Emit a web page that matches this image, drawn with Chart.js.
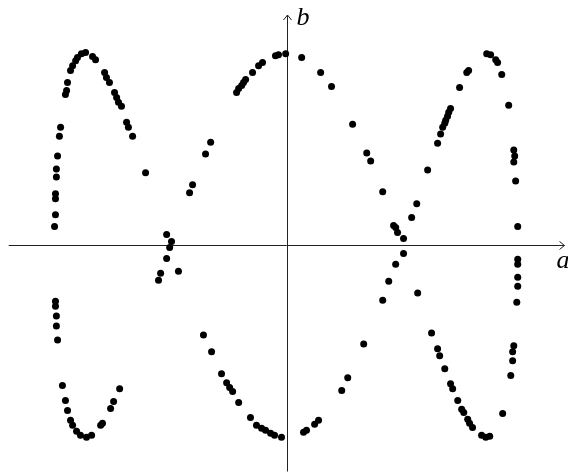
<!DOCTYPE html>
<html>
<head>
<meta charset="utf-8">
<script src="https://cdn.jsdelivr.net/npm/chart.js@4"></script>
<style>
html,body{margin:0;padding:0;background:#fff;}
#c{display:block;}
</style>
</head>
<body>
<canvas id="c" width="568" height="475"></canvas>
<script>
const aValues = [
-1.002,-0.998,-0.998,-0.998,-0.994,-0.994,-0.989,-0.981,-0.976,-0.955,
-0.950,-0.946,-0.933,-0.924,-0.911,-0.903,-0.886,-0.868,-0.838,-0.825,
-0.786,-0.778,-0.765,-0.743,-0.734,-0.726,-0.713,-0.691,-0.683,-0.665,
-0.609,-0.518,-0.497,-0.505,-0.518,-0.467,-0.544,-0.553,-0.419,-0.406,
-0.350,-0.328,-0.216,-0.207,-0.194,-0.186,-0.177,-0.147,-0.121,-0.104,
-0.048,-0.035,-0.004,0.065,0.147,0.194,0.285,0.346,0.363,0.415,
0.462,0.471,0.479,0.505,0.505,0.471,0.441,0.415,0.540,0.562,
0.566,0.609,0.652,0.665,0.674,0.683,0.687,0.695,0.700,0.708,
0.747,0.778,0.786,0.864,0.881,0.903,0.911,0.929,0.959,0.981,
0.985,0.981,0.989,0.998,0.998,0.998,0.998,0.998,0.994,0.981,
0.976,0.976,0.968,0.933,0.877,0.860,0.842,0.803,0.790,0.782,
0.765,0.756,0.739,0.717,0.708,0.683,0.661,0.652,0.626,0.333,
0.264,0.238,0.138,0.121,0.086,0.073,-0.022,-0.052,-0.069,-0.091,
-0.108,-0.130,-0.156,-0.207,-0.233,-0.246,-0.259,-0.281,-0.324,-0.359,
-0.998,-0.998,-0.994,-0.994,-0.989,-0.968,-0.955,-0.946,-0.933,-0.924,
-0.907,-0.890,-0.864,-0.842,-0.803,-0.795,-0.760,-0.747,-0.721
];
const bValues = [
0.097,0.159,0.242,0.268,0.356,0.397,0.465,0.568,0.615,0.786,
0.807,0.848,0.910,0.936,0.962,0.978,0.998,1.004,0.983,0.967,
0.900,0.874,0.848,0.796,0.770,0.745,0.724,0.641,0.615,0.568,
0.377,0.055,0.019,-0.012,-0.069,-0.136,-0.147,-0.183,0.273,0.315,
0.475,0.537,0.796,0.817,0.833,0.848,0.864,0.900,0.936,0.952,
0.988,0.993,0.998,0.978,0.900,0.827,0.631,0.480,0.439,0.278,
0.102,0.092,0.066,0.035,-0.043,-0.100,-0.188,-0.287,0.144,0.216,
-0.250,0.392,0.532,0.579,0.615,0.636,0.651,0.672,0.693,0.713,
0.822,0.900,0.910,0.998,0.993,0.967,0.952,0.890,0.729,0.496,
0.465,0.434,0.335,0.097,-0.074,-0.100,-0.167,-0.214,-0.297,-0.525,
-0.556,-0.603,-0.680,-0.877,-0.996,-1.002,-0.991,-0.950,-0.929,-0.908,
-0.872,-0.856,-0.810,-0.748,-0.722,-0.644,-0.577,-0.540,-0.458,-0.515,
-0.691,-0.758,-0.913,-0.934,-0.965,-0.976,-1.002,-0.991,-0.981,-0.965,
-0.955,-0.939,-0.898,-0.820,-0.763,-0.742,-0.717,-0.670,-0.556,-0.468,
-0.292,-0.318,-0.369,-0.421,-0.494,-0.732,-0.810,-0.862,-0.913,-0.939,
-0.970,-0.991,-1.002,-0.991,-0.939,-0.929,-0.851,-0.815,-0.748
];
const axisLabels = { x: 'a', y: 'b' };

const points = aValues.map((a, i) => ({ x: a, y: bValues[i] }));

const axesPlugin = {
  id: 'centerAxes',
  beforeDatasetsDraw(chart) {
    const { ctx, scales } = chart;
    const xs = scales.x, ys = scales.y;
    const x0 = Math.round(xs.getPixelForValue(0)) + 0.5;
    const y0 = Math.round(ys.getPixelForValue(0)) + 0.5;
    const xL = xs.getPixelForValue(xs.min), xR = xs.getPixelForValue(xs.max);
    const yT = ys.getPixelForValue(ys.max), yB = ys.getPixelForValue(ys.min);
    ctx.save();
    ctx.strokeStyle = '#222';
    ctx.lineWidth = 1;
    ctx.beginPath();
    ctx.moveTo(xL, y0); ctx.lineTo(xR, y0);
    ctx.moveTo(x0, yB); ctx.lineTo(x0, yT);
    ctx.moveTo(xR - 5, y0 - 4); ctx.lineTo(xR, y0); ctx.lineTo(xR - 5, y0 + 4);
    ctx.moveTo(x0 - 4, yT + 5); ctx.lineTo(x0, yT); ctx.lineTo(x0 + 4, yT + 5);
    ctx.stroke();
    ctx.fillStyle = '#000';
    ctx.font = 'italic 26px "Liberation Serif", "DejaVu Serif", serif';
    ctx.textBaseline = 'alphabetic';
    ctx.textAlign = 'left';
    ctx.fillText(axisLabels.x, xR - 8, y0 + 22);
    ctx.fillText(axisLabels.y, x0 + 9, yT + 10);
    ctx.restore();
  }
};

new Chart(document.getElementById('c'), {
  type: 'scatter',
  data: {
    datasets: [{
      data: points,
      backgroundColor: '#000',
      borderColor: '#000',
      borderWidth: 0,
      pointRadius: 3.5,
      pointHoverRadius: 3.5
    }]
  },
  options: {
    responsive: false,
    animation: false,
    events: [],
    layout: { padding: { left: 8.7, right: 3.2, top: 15, bottom: 0 } },
    plugins: { legend: { display: false }, tooltip: { enabled: false } },
    scales: {
      x: { type: 'linear', min: -1.2, max: 1.2, display: false },
      y: { type: 'linear', min: -1.18, max: 1.2, display: false }
    }
  },
  plugins: [axesPlugin]
});
</script>
</body>
</html>
